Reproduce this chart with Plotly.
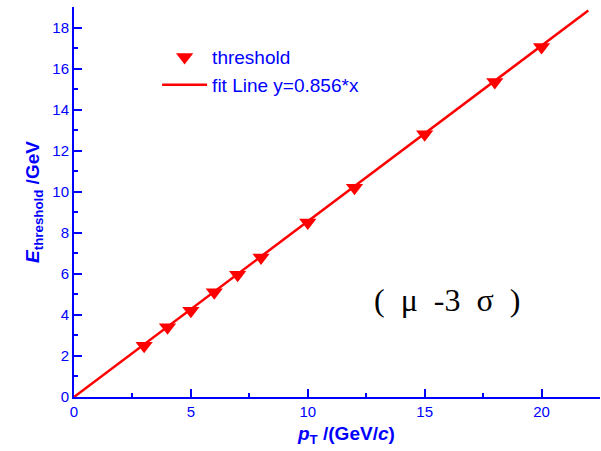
import plotly.graph_objects as go

pt = [3, 4, 5, 6, 7, 8, 10, 12, 15, 18, 20]
threshold = [2.5, 3.4, 4.2, 5.1, 5.95, 6.8, 8.5, 10.2, 12.8, 15.35, 17.05]
fit_x = [0, 22]
fit_y = [0, 18.83]

BLUE = "#0000ff"
RED = "#ff0000"

fig = go.Figure()
fig.add_trace(go.Scatter(x=fit_x, y=fit_y, mode="lines", name="fit Line y=0.856*x",
                         line=dict(color=RED, width=2.5), showlegend=False))
fig.add_trace(go.Scatter(x=pt, y=threshold, mode="markers", name="threshold",
                         marker=dict(symbol="triangle-down", size=15, color=RED)))
fig.add_trace(go.Scatter(x=[None], y=[None], mode="lines", name="fit Line y=0.856*x",
                         line=dict(color=RED, width=2.5)))

axis_common = dict(showgrid=False, zeroline=False, showline=True, linecolor=BLUE, linewidth=2,
                   ticks="inside", tickcolor=BLUE, tickwidth=2, ticklen=8, automargin=False,
                   tickfont=dict(family="Liberation Sans", size=15, color=BLUE))

fig.update_xaxes(range=[0, 22.5], dtick=5, tick0=0,
                 minor=dict(ticks="inside", ticklen=4, dtick=2.5, tickcolor=BLUE, tickwidth=1.5),
                 **axis_common)
fig.update_yaxes(range=[0, 19], dtick=2, tick0=0,
                 minor=dict(ticks="inside", ticklen=4, dtick=1, tickcolor=BLUE, tickwidth=1.5),
                 title=dict(text="<b><i>E</i><sub>threshold</sub> /GeV</b>",
                            font=dict(family="Liberation Sans", size=19, color=BLUE), standoff=8),
                 **axis_common)

fig.add_annotation(x=0.517, y=-0.097, xref="paper", yref="paper", showarrow=False,
                   xanchor="center", yanchor="middle",
                   text="<b><i>p</i><sub>T</sub> /(GeV/<i>c</i>)</b>",
                   font=dict(family="Liberation Sans", size=19, color=BLUE))

fig.add_annotation(x=0.709, y=0.249, xref="paper", yref="paper", showarrow=False,
                   xanchor="center", yanchor="middle",
                   text="(  μ  -3  σ  )", font=dict(family="Liberation Serif", size=32, color="black"))

fig.update_layout(width=601, height=451, margin=dict(l=74, r=1, t=7, b=54),
                  plot_bgcolor="white", paper_bgcolor="white",
                  legend=dict(x=0.158, y=0.92, xanchor="left", yanchor="top", itemwidth=45,
                              bgcolor="rgba(0,0,0,0)", tracegroupgap=0,
                              font=dict(family="Liberation Sans", size=19, color=BLUE)))

fig.write_html("out.html", config={"displayModeBar": False},
               post_script="document.body.style.margin='0';document.body.style.overflow='hidden';")
